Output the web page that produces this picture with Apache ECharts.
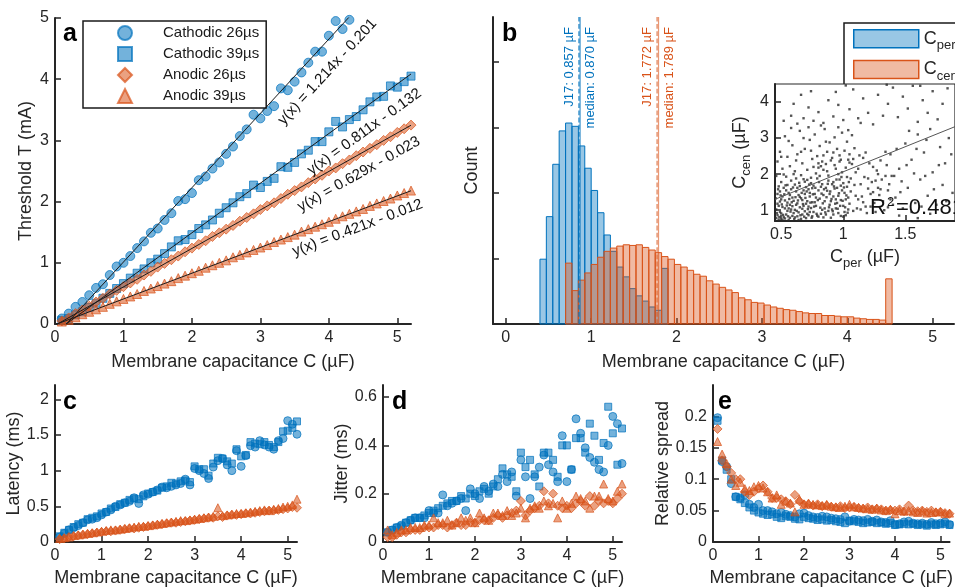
<!DOCTYPE html>
<html>
<head>
<meta charset="utf-8">
<script src="https://cdn.jsdelivr.net/npm/echarts@6/dist/echarts.min.js"></script>
<style>html,body{margin:0;background:#fff}#main{width:955px;height:588px}</style>
</head>
<body>
<div id="main"></div>
<script>
// ---- data ----
const capC = [0.1,0.2,0.3,0.4,0.5,0.6,0.7,0.8,0.9,1.0,1.1,1.2,1.3,1.4,1.5,1.6,1.7,1.8,1.9,2.0,
  2.1,2.2,2.3,2.4,2.5,2.6,2.7,2.8,2.9,3.0,3.1,3.2,3.3,3.4,3.5,3.6,3.7,3.8,3.9,4.0,
  4.1,4.2,4.3,4.4,4.5,4.6,4.7,4.8,4.9,5.0,5.1,5.2]
const seriesNames = ['Cathodic 26µs', 'Cathodic 39µs', 'Anodic 26µs', 'Anodic 39µs']

// a: threshold (mA)
const thrCat26 = [0.09,0.17,0.28,0.36,0.47,0.59,0.65,0.80,0.94,1.00,1.11,1.24,1.35,1.49,1.56,1.70,1.81,2.01,2.04,2.14,
  2.35,2.41,2.54,2.64,2.78,2.90,3.07,3.18,3.42,3.36,3.48,3.56,3.85,3.82,3.96,4.11,4.27,4.45,4.45,4.71,4.95,4.82,4.97]
const thrCat39 = [0.06,0.09,0.15,0.20,0.27,0.34,0.42,0.50,0.58,0.66,0.75,0.83,0.90,1.00,1.06,1.15,1.26,1.36,1.38,1.46,
  1.56,1.62,1.70,1.81,1.90,1.98,2.08,2.13,2.27,2.23,2.33,2.38,2.57,2.56,2.64,2.78,2.84,2.98,2.98,3.14,
  3.31,3.22,3.34,3.39,3.50,3.63,3.71,3.72,3.89,3.87,3.96,4.05]
const thrAno26 = [0.05,0.10,0.17,0.23,0.29,0.36,0.42,0.49,0.55,0.61,0.67,0.73,0.80,0.86,0.93,0.99,1.05,1.11,1.18,1.24,
  1.30,1.36,1.43,1.49,1.55,1.61,1.68,1.74,1.80,1.87,1.93,1.98,2.05,2.12,2.18,2.24,2.31,2.37,2.43,2.50,
  2.55,2.62,2.68,2.75,2.81,2.87,2.93,3.00,3.06,3.13,3.19,3.25]
const thrAno39 = [0.04,0.07,0.11,0.16,0.20,0.24,0.28,0.33,0.37,0.41,0.45,0.49,0.54,0.58,0.62,0.66,0.70,0.75,0.79,0.83,
  0.87,0.92,0.96,1.00,1.04,1.09,1.13,1.17,1.21,1.25,1.29,1.34,1.38,1.42,1.46,1.51,1.55,1.59,1.63,1.67,
  1.72,1.76,1.80,1.84,1.88,1.93,1.97,2.01,2.05,2.10,2.14,2.18]
const fitSlope = [1.214, 0.811, 0.629, 0.421]
const fitIcpt = [-0.201, -0.132, -0.023, -0.012]

// b: histogram of capacitances (bin counts, arbitrary units)
const binLeft = 0.4
const binWidth = 0.075
const perCounts = [99,164,244,295,307,302,272,238,204,170,136,111,87,72,54,43,35,26,21,85]
const cenFirstBin = 4
const cenCounts = [93,51,67,78,91,102,111,116,119,121,120,121,117,113,109,103,99,91,87,82,76,73,66,61,
  56,52,48,40,37,33,32,29,26,24,22,21,19,17,16,16,13,13,12,11,11,9,8,7,7,6,69]
const perMarks = [0.857, 0.870]   // J17, median
const cenMarks = [1.772, 1.789]

// b inset: C_per vs C_cen
const perCen = [
  [0.46,0.78],[0.48,1.12],[0.47,1.45],[0.49,0.95],[0.50,1.30],[0.51,0.74],[0.52,1.62],[0.53,1.05],[0.54,0.88],[0.55,1.21],
  [0.56,1.48],[0.57,0.79],[0.58,1.02],[0.59,1.35],[0.60,0.92],[0.61,1.71],[0.62,1.15],[0.63,0.83],[0.64,1.42],[0.65,1.08],
  [0.66,0.76],[0.67,1.28],[0.68,1.55],[0.69,0.97],[0.70,1.18],[0.71,1.84],[0.72,0.86],[0.73,1.38],[0.74,1.06],[0.75,1.61],
  [0.46,1.02],[0.47,0.86],[0.48,1.66],[0.49,1.24],[0.50,0.91],[0.51,1.38],[0.52,0.81],[0.53,1.27],[0.54,1.55],[0.55,0.98],
  [0.56,0.73],[0.57,1.15],[0.58,1.82],[0.59,0.84],[0.60,1.26],[0.61,1.01],[0.62,1.52],[0.63,1.19],[0.64,0.94],[0.65,1.67],
  [0.66,1.33],[0.67,0.88],[0.68,1.12],[0.69,1.45],[0.70,0.78],[0.71,1.25],[0.72,1.58],[0.73,0.95],[0.74,1.90],[0.75,1.22],
  [0.47,1.18],[0.49,1.52],[0.51,1.09],[0.53,0.77],[0.55,1.70],[0.57,1.42],[0.59,1.11],[0.61,0.80],[0.63,1.62],[0.65,1.37],
  [0.67,1.04],[0.69,1.79],[0.71,0.90],[0.73,1.48],[0.75,0.83],[0.46,1.95],[0.50,1.78],[0.54,1.93],[0.58,1.58],[0.62,1.88],
  [0.66,1.97],[0.70,1.64],[0.74,1.75],[0.52,1.99],[0.60,2.00],[0.68,1.86],[0.48,0.74],[0.56,1.05],[0.64,0.73],[0.72,1.10],
  [0.455,1.33],[0.465,0.92],[0.475,1.58],[0.485,0.81],[0.495,1.41],[0.505,1.16],[0.515,0.87],[0.525,1.44],[0.535,1.69],[0.545,1.13],
  [0.555,0.83],[0.565,1.31],[0.575,0.96],[0.585,1.22],[0.595,1.63],[0.605,0.75],[0.615,1.36],[0.625,0.98],[0.635,1.27],[0.645,1.76],
  [0.655,0.86],[0.665,1.48],[0.675,1.17],[0.685,0.82],[0.695,1.34],[0.705,1.52],[0.715,1.03],[0.725,1.71],[0.735,1.21],[0.745,0.79],
  [0.755,1.44],[0.765,1.10],[0.775,1.62],[0.785,0.90],[0.795,1.28],[0.805,1.78],[0.815,1.07],[0.825,1.46],[0.835,1.19],[0.845,1.58],
  [0.855,0.94],[0.865,1.36],[0.875,1.73],[0.885,1.08],[0.895,1.52],[0.905,1.31],[0.915,0.97],[0.925,1.66],[0.935,1.18],[0.945,1.85],
  [0.955,1.04],[0.965,1.47],[0.975,1.12],[0.985,1.92],[0.995,1.26],[1.005,1.63],[1.015,1.08],[1.025,1.41],[1.035,0.93],[1.045,1.78],
  [0.76,0.95],[0.77,1.45],[0.78,1.12],[0.79,1.88],[0.80,0.82],[0.81,1.32],[0.82,1.65],[0.83,1.01],[0.84,2.12],[0.85,1.25],
  [0.86,0.88],[0.87,1.54],[0.88,1.96],[0.89,1.15],[0.90,0.79],[0.91,1.72],[0.92,1.38],[0.93,2.25],[0.94,1.05],[0.95,1.62],
  [0.96,0.92],[0.97,1.85],[0.98,1.28],[0.99,2.05],[1.00,1.12],[1.01,1.48],[1.02,0.86],[1.03,1.92],[1.04,1.35],[1.05,2.32],
  [0.76,1.68],[0.78,2.02],[0.80,1.55],[0.82,0.90],[0.84,1.42],[0.86,2.28],[0.88,0.98],[0.90,1.25],[0.92,1.78],[0.94,2.15],
  [0.96,1.40],[0.98,0.84],[1.00,1.75],[1.02,2.18],[1.04,1.02],[0.77,1.22],[0.79,0.85],[0.81,1.95],[0.83,1.72],[0.85,1.05],
  [0.87,2.08],[0.89,1.45],[0.91,1.02],[0.93,1.60],[0.95,1.20],[0.97,2.35],[0.99,1.55],[1.01,0.95],[1.03,1.65],[1.05,1.18],
  [0.78,1.35],[0.82,2.22],[0.86,1.62],[0.90,2.38],[0.94,1.30],[0.98,1.68],[1.02,1.30],[0.80,2.30],[0.88,1.82],[0.96,2.00],
  [1.04,2.40],[0.84,0.80],[0.92,0.88],[1.00,0.82],[0.76,2.20],
  [1.06,1.52],[1.08,0.98],[1.10,2.05],[1.12,1.30],[1.14,1.72],[1.16,2.45],[1.18,1.10],[1.20,1.88],[1.22,1.45],[1.24,2.20],
  [1.26,0.95],[1.28,1.62],[1.30,2.38],[1.32,1.25],[1.34,1.95],[1.36,1.55],[1.38,2.55],[1.40,1.15],[1.07,2.28],[1.09,1.70],
  [1.11,1.05],[1.13,2.52],[1.15,1.38],[1.17,1.92],[1.19,0.92],[1.21,2.30],[1.23,1.78],[1.25,1.20],[1.27,2.10],[1.29,1.42],
  [1.31,1.85],[1.33,1.00],[1.35,2.25],[1.37,1.72],[1.39,1.95],[1.06,1.88],[1.10,1.40],[1.14,1.02],[1.18,2.60],[1.22,1.10],
  [1.26,1.82],[1.30,1.58],[1.34,2.62],[1.38,1.30],[1.12,2.15],[1.20,1.60],[1.28,2.00],[1.36,1.08],[1.16,1.22],[1.24,1.50],
  [0.47,2.35],[0.49,2.62],[0.51,2.15],[0.53,3.05],[0.55,2.48],[0.57,2.22],[0.59,2.80],[0.61,2.08],[0.63,2.55],[0.65,3.20],
  [0.67,2.30],[0.69,2.70],[0.71,2.12],[0.73,2.95],[0.75,2.42],[0.77,3.10],[0.79,2.50],[0.81,2.78],[0.83,2.35],[0.85,3.25],
  [0.87,2.62],[0.89,2.88],[0.91,2.45],[0.93,3.02],[0.95,2.70],[0.97,2.52],[0.99,3.15],[1.01,2.65],[1.03,2.90],[1.05,2.55],
  [1.07,3.08],[1.09,2.72],[0.50,2.48],[0.56,2.92],[0.62,2.38],[0.68,3.00],[0.74,2.65],[0.80,2.18],[0.86,2.90],[0.92,2.60],
  [0.98,2.40],[1.04,3.22],[0.58,3.28],[0.66,2.62],[0.72,3.30],[0.84,2.52],[0.96,3.30],[1.08,2.42],
  [0.52,3.48],[0.58,3.62],[0.63,3.40],[0.68,3.55],[0.72,3.85],[0.76,3.48],[0.80,3.72],[0.84,3.42],[0.88,4.05],[0.92,3.60],
  [0.96,3.92],[1.00,3.50],[1.05,3.80],[1.08,4.35],[1.12,3.55],[1.16,4.10],[1.20,3.70],[1.24,3.38],[1.28,4.20],[1.32,3.62],
  [1.36,3.95],[1.40,4.40],[1.44,3.58],[1.48,4.15],[1.52,3.82],[1.56,4.45],[1.60,3.45],[1.64,4.05],[1.68,3.70],[1.72,4.30],
  [1.76,3.52],[1.80,3.95],[1.84,4.38],[0.66,4.20],[0.74,4.30],[0.82,3.35],[0.94,4.28],[1.02,4.46],[0.60,3.95],[1.14,3.42],
  [1.35,4.48],[1.62,4.45],
  [1.42,1.35],[1.45,2.15],[1.48,1.05],[1.50,2.85],[1.52,1.62],[1.55,2.40],[1.58,1.20],[1.60,3.10],[1.62,1.85],[1.65,2.60],
  [1.68,1.40],[1.70,3.25],[1.72,2.05],[1.75,1.15],[1.78,2.75],[1.80,1.70],[1.82,2.30],[1.85,3.00],[1.88,1.48],[1.43,2.70],
  [1.47,1.80],[1.53,3.20],[1.57,2.02],[1.63,1.10],[1.67,2.95],[1.73,1.58],[1.77,2.25],[1.83,1.25],[1.87,2.55],[1.41,1.95],
  [1.46,1.50],[1.51,2.25],[1.59,2.70],[1.66,1.95],[1.45,0.85],[1.55,0.95],[1.70,0.90],[1.60,0.78]
]
const insetFit = [1.39, 0.676]
const insetR2 = '0.481'

// c: latency (ms)
const latCat26 = [0.07,0.12,0.17,0.20,0.23,0.27,0.31,0.32,0.34,0.38,0.42,0.45,0.50,0.52,0.55,0.57,0.62,0.54,0.66,0.67,
  0.70,0.73,0.77,0.76,0.78,0.80,0.82,0.88,0.80,1.03,1.00,0.96,0.89,1.05,1.14,1.17,1.08,1.00,1.28,1.06,
  1.21,1.35,1.33,1.42,1.36,1.33,1.30,1.42,1.45,1.70,1.65,1.51]
const latCat39 = [0.08,0.13,0.17,0.21,0.25,0.27,0.32,0.34,0.36,0.40,0.42,0.47,0.49,0.53,0.55,0.59,0.61,0.60,0.64,0.68,
  0.70,0.72,0.76,0.78,0.83,0.82,0.85,0.86,0.84,1.06,1.02,1.02,0.93,1.10,1.18,1.17,1.13,1.10,1.30,1.20,
  1.22,1.40,1.38,1.37,1.40,1.36,1.33,1.40,1.55,1.56,1.60,1.69]
const latAno26 = [0.04,0.05,0.07,0.08,0.09,0.10,0.11,0.12,0.13,0.14,0.15,0.15,0.16,0.17,0.18,0.19,0.19,0.20,0.21,0.22,
  0.23,0.24,0.25,0.26,0.27,0.27,0.28,0.29,0.30,0.31,0.32,0.33,0.34,0.34,0.36,0.35,0.37,0.38,0.38,0.39,
  0.40,0.40,0.41,0.42,0.43,0.44,0.44,0.45,0.46,0.47,0.49,0.48]
const latAno39 = [0.05,0.06,0.07,0.09,0.10,0.11,0.12,0.13,0.14,0.15,0.16,0.17,0.17,0.18,0.19,0.20,0.21,0.22,0.22,0.23,
  0.24,0.25,0.26,0.27,0.28,0.29,0.30,0.30,0.31,0.32,0.33,0.34,0.35,0.36,0.48,0.37,0.38,0.39,0.40,0.40,
  0.41,0.42,0.43,0.44,0.45,0.44,0.46,0.47,0.49,0.50,0.52,0.60]

// d: jitter (ms)
const jitCat26 = [0.04,0.05,0.06,0.07,0.08,0.09,0.10,0.10,0.10,0.13,0.12,0.12,0.195,0.15,0.16,0.17,0.18,0.13,0.22,0.20,
  0.18,0.23,0.21,0.24,0.23,0.28,0.25,0.29,0.19,0.34,0.27,0.18,0.27,0.31,0.36,0.32,0.29,0.25,0.44,0.25,
  0.30,0.51,0.45,0.39,0.35,0.33,0.30,0.29,0.40,0.52,0.49,0.325]
const jitCat39 = [0.04,0.05,0.06,0.065,0.08,0.09,0.10,0.10,0.11,0.12,0.13,0.14,0.15,0.16,0.17,0.17,0.19,0.18,0.20,0.19,
  0.21,0.22,0.20,0.23,0.26,0.305,0.28,0.27,0.21,0.37,0.31,0.34,0.28,0.23,0.37,0.37,0.34,0.27,0.40,0.40,
  0.30,0.43,0.43,0.37,0.49,0.44,0.34,0.41,0.56,0.45,0.32,0.47]
const jitAno26 = [0.02,0.02,0.03,0.04,0.04,0.05,0.05,0.05,0.06,0.06,0.06,0.07,0.07,0.06,0.07,0.08,0.07,0.07,0.08,0.08,
  0.09,0.09,0.09,0.10,0.11,0.10,0.11,0.12,0.13,0.17,0.11,0.13,0.14,0.15,0.21,0.16,0.20,0.15,0.14,0.15,
  0.14,0.16,0.17,0.15,0.19,0.15,0.17,0.16,0.17,0.16,0.18,0.20]
const jitAno39 = [0.05,0.03,0.04,0.05,0.05,0.06,0.06,0.06,0.07,0.07,0.10,0.08,0.08,0.09,0.07,0.08,0.10,0.09,0.10,0.08,
  0.12,0.10,0.09,0.12,0.12,0.11,0.13,0.11,0.12,0.14,0.10,0.14,0.15,0.14,0.17,0.15,0.16,0.10,0.17,0.14,
  0.16,0.19,0.18,0.17,0.14,0.19,0.19,0.24,0.18,0.17,0.21,0.24]

// e: relative spread
const rsCat26 = [0.198,0.128,0.120,0.093,0.072,0.070,0.075,0.060,0.055,0.060,0.050,0.050,0.048,0.045,0.047,0.044,0.042,0.040,0.045,0.046,
  0.042,0.040,0.039,0.041,0.040,0.038,0.037,0.036,0.040,0.033,0.036,0.035,0.034,0.036,0.033,0.035,0.032,0.031,0.034,0.028,
  0.029,0.032,0.033,0.030,0.029,0.030,0.028,0.031,0.029,0.030,0.032,0.028]
const rsCat39 = [0.193,0.130,0.115,0.100,0.072,0.068,0.062,0.055,0.050,0.047,0.045,0.043,0.044,0.040,0.038,0.041,0.040,0.037,0.036,0.040,
  0.038,0.037,0.035,0.036,0.034,0.035,0.033,0.032,0.030,0.034,0.033,0.032,0.030,0.031,0.032,0.030,0.031,0.029,0.030,0.027,
  0.028,0.029,0.028,0.029,0.027,0.028,0.026,0.028,0.027,0.028,0.029,0.027]
const rsAno26 = [0.180,0.130,0.120,0.110,0.100,0.100,0.080,0.075,0.080,0.085,0.090,0.080,0.070,0.070,0.068,0.065,0.060,0.075,0.065,0.060,
  0.060,0.058,0.060,0.057,0.058,0.056,0.055,0.057,0.054,0.055,0.056,0.054,0.053,0.055,0.052,0.053,0.052,0.050,0.051,0.050,
  0.052,0.049,0.058,0.050,0.049,0.050,0.048,0.050,0.047,0.048,0.046,0.045]
const rsAno39 = [0.160,0.140,0.125,0.100,0.090,0.095,0.085,0.082,0.088,0.090,0.086,0.080,0.070,0.075,0.060,0.065,0.062,0.048,0.068,0.060,
  0.062,0.060,0.059,0.058,0.060,0.057,0.056,0.055,0.057,0.060,0.056,0.055,0.054,0.053,0.052,0.054,0.051,0.050,0.052,0.045,
  0.050,0.049,0.050,0.048,0.047,0.049,0.046,0.047,0.048,0.048,0.045,0.046]

// ---- styling ----
const FONT = '"Liberation Sans", Arial, sans-serif'
const INK = '#262626'
const BLUE = '#0072BD'
const ORANGE = '#D95319'
const markFill = [
  'rgba(0,114,189,0.55)', 'rgba(0,114,189,0.55)', 'rgba(217,83,25,0.55)', 'rgba(217,83,25,0.55)'
]
const markEdge = [
  'rgba(0,114,189,0.7)', 'rgba(0,114,189,0.7)', 'rgba(217,83,25,0.7)', 'rgba(217,83,25,0.7)'
]
const markSymbol = ['circle', 'rect', 'diamond', 'triangle']
const bigSize = [9, 8, 10, 9]
const smallSize = [8, 7, 9, 8]

const pair = (xs, ys) => ys.map((y, i) => [xs[i], y])

function valAxis(grid, min, max, ticks, extra) {
  return Object.assign({
    type: 'value', gridIndex: grid, min: min, max: max,
    axisLine: { show: true, onZero: false, lineStyle: { color: INK, width: 2 } },
    axisTick: { show: true, inside: true, length: 6, customValues: ticks, lineStyle: { color: INK, width: 1.5 } },
    axisLabel: { customValues: ticks, color: INK, fontSize: 16, fontFamily: FONT, margin: 6 },
    splitLine: { show: false },
    nameLocation: 'middle',
    nameTextStyle: { color: INK, fontSize: 18, fontFamily: FONT }
  }, extra || {})
}

const xLab = 'Membrane capacitance C (µF)'
const ticks05 = [0, 1, 2, 3, 4, 5]

const subRich = {
  m: { fontSize: 18, fontFamily: FONT, color: INK, lineHeight: 26 },
  s: { fontSize: 13, fontFamily: FONT, color: INK, lineHeight: 26, verticalAlign: 'bottom' }
}

const grids = [
  { left: 55, top: 18, width: 356, height: 306 },
  { left: 493, top: 17, width: 461, height: 307 },
  { left: 775, top: 84, width: 191, height: 137, show: true, backgroundColor: '#fff', borderColor: INK, borderWidth: 1.2, z: 5 },
  { left: 55, top: 385, width: 242, height: 159 },
  { left: 383, top: 385, width: 239, height: 159 },
  { left: 713, top: 385, width: 240, height: 159 }
]

const xAxes = [
  valAxis(0, 0, 5.2, ticks05, { name: xLab, nameGap: 29 }),
  valAxis(1, -0.15, 5.25, ticks05, { name: xLab, nameGap: 29 }),
  valAxis(2, 0.45, 1.9, [0.5, 1, 1.5], {
    name: '{m|C}{s|per}{m| (µF)}', nameGap: 23, z: 6,
    nameTextStyle: { rich: subRich }
  }),
  valAxis(3, 0, 5.2, ticks05, { name: xLab, nameGap: 27 }),
  valAxis(4, 0, 5.2, ticks05, { name: xLab, nameGap: 27 }),
  valAxis(5, 0, 5.2, ticks05, { name: xLab, nameGap: 27 })
]
const yAxes = [
  valAxis(0, 0, 5, [0, 1, 2, 3, 4, 5], { name: 'Threshold T (mA)', nameGap: 20 }),
  valAxis(1, 0, 469, [0, 100, 200, 300, 400], {
    name: 'Count', nameGap: 12,
    axisLabel: { show: false, customValues: [0, 100, 200, 300, 400] }
  }),
  valAxis(2, 0.7, 4.5, [1, 2, 3, 4], {
    name: '{m|C}{s|cen}{m| (µF)}', nameGap: 22, z: 6,
    nameTextStyle: { rich: subRich }
  }),
  valAxis(3, 0, 2.2, [0, 0.5, 1, 1.5, 2], { name: 'Latency (ms)', nameGap: 30 }),
  valAxis(4, 0, 0.65, [0, 0.2, 0.4, 0.6], { name: 'Jitter (ms)', nameGap: 28 }),
  valAxis(5, 0, 0.25, [0, 0.05, 0.1, 0.15, 0.2], { name: 'Relative spread', nameGap: 38 })
]

const series = []
function addGroup(axis, sets, sizes, xs) {
  sets.forEach((ys, k) => {
    series.push({
      type: 'scatter', name: seriesNames[k], xAxisIndex: axis, yAxisIndex: axis,
      data: pair(xs, ys), symbol: markSymbol[k], symbolSize: sizes[k], silent: true,
      itemStyle: { color: markFill[k], borderColor: markEdge[k], borderWidth: 1, opacity: 1 }
    })
  })
}

// a
addGroup(0, [thrCat26, thrCat39, thrAno26, thrAno39], bigSize, capC)
const fitEnd = [capC[thrCat26.length - 1], 5.2, 5.2, 5.2]
fitSlope.forEach((m, k) => {
  const b = fitIcpt[k]
  series.push({
    type: 'line', xAxisIndex: 0, yAxisIndex: 0, symbol: 'none', silent: true, z: 4,
    data: [[-b / m, 0], [fitEnd[k], m * fitEnd[k] + b]],
    lineStyle: { color: '#1a1a1a', width: 1 }
  })
})

// b histogram
function histData(counts, first) {
  return counts.map((c, i) => [binLeft + (first + i) * binWidth, binLeft + (first + i + 1) * binWidth, c])
}
function histSeries(name, counts, first, fill, edge) {
  return {
    type: 'custom', name: name, xAxisIndex: 1, yAxisIndex: 1, silent: true,
    data: histData(counts, first),
    encode: { x: [0, 1], y: 2 },
    renderItem: function (params, api) {
      const p0 = api.coord([api.value(0), api.value(2)])
      const p1 = api.coord([api.value(1), 0])
      return {
        type: 'rect',
        shape: { x: p0[0], y: p0[1], width: p1[0] - p0[0], height: p1[1] - p0[1] },
        style: { fill: fill, stroke: edge, lineWidth: 1 }
      }
    }
  }
}
series.push(histSeries('Cper', perCounts, 0, 'rgba(0,114,189,0.4)', BLUE))
series.push(histSeries('Ccen', cenCounts, cenFirstBin, 'rgba(217,83,25,0.4)', ORANGE))
const markLines = [
  [perMarks[0], 'dashed', 'rgba(0,114,189,0.9)'], [perMarks[1], 'solid', 'rgba(0,114,189,0.75)'],
  [cenMarks[0], 'dashed', 'rgba(217,83,25,0.75)'], [cenMarks[1], 'solid', 'rgba(217,83,25,0.6)']
]
markLines.forEach(([x, type, col]) => {
  series.push({
    type: 'line', xAxisIndex: 1, yAxisIndex: 1, symbol: 'none', silent: true, z: 4,
    data: [[x, 0], [x, 469]], lineStyle: { color: col, width: 1.2, type: type }
  })
})

// b inset
series.push({
  type: 'scatter', xAxisIndex: 2, yAxisIndex: 2, data: perCen, symbol: 'rect', symbolSize: 2.4,
  silent: true, z: 6, itemStyle: { color: '#2a2a2a' }
})
series.push({
  type: 'line', xAxisIndex: 2, yAxisIndex: 2, symbol: 'none', silent: true, z: 7,
  data: [[0.45, insetFit[0] * 0.45 + insetFit[1]], [1.9, insetFit[0] * 1.9 + insetFit[1]]],
  lineStyle: { color: '#555', width: 1 }
})

// c, d, e
addGroup(3, [latCat26, latCat39, latAno26, latAno39], smallSize, capC)
addGroup(4, [jitCat26, jitCat39, jitAno26, jitAno39], smallSize, capC)
addGroup(5, [rsCat26, rsCat39, rsAno26, rsAno39], smallSize, capC)

const option = {
  animation: false,
  backgroundColor: '#fff',
  grid: grids,
  xAxis: xAxes,
  yAxis: yAxes,
  legend: [
    {
      left: 83, top: 21, orient: 'vertical', selectedMode: false,
      data: seriesNames.map((n, k) => ({ name: n, icon: markSymbol[k] })),
      itemWidth: 14, itemHeight: 14, itemGap: 5, padding: [4, 7, 4, 34],
      borderColor: '#1a1a1a', borderWidth: 1.5, backgroundColor: '#fff',
      textStyle: { fontSize: 15, fontFamily: FONT, color: '#1a1a1a', padding: [0, 0, 0, 26] }
    },
    {
      left: 844, top: 23, orient: 'vertical', selectedMode: false,
      data: [
        { name: 'Cper', icon: 'rect', itemStyle: { color: 'rgba(0,114,189,0.4)', borderColor: BLUE, borderWidth: 1.5 } },
        { name: 'Ccen', icon: 'rect', itemStyle: { color: 'rgba(217,83,25,0.4)', borderColor: ORANGE, borderWidth: 1.5 } }
      ],
      itemWidth: 65, itemHeight: 18, itemGap: 8, padding: [6, 9, 5, 9],
      borderColor: '#1a1a1a', borderWidth: 1.5, backgroundColor: '#fff',
      formatter: n => '{m|C}{s|' + n.slice(1) + '}',
      textStyle: { rich: subRich }
    }
  ],
  series: series
}

const chart = echarts.init(document.getElementById('main'))
chart.setOption(option)

// ---- annotations placed through the axes ----
const px = (g, pt) => chart.convertToPixel({ gridIndex: g }, pt)
const graphic = []
function label(x, y, text, font, fill, align, vAlign, rot) {
  graphic.push({
    type: 'text', x: x, y: y, rotation: rot || 0, silent: true, z: 20,
    style: { text: text, font: font, fill: fill, align: align, verticalAlign: vAlign }
  })
}
const letterFont = 'bold 25px ' + FONT
label(63, 34, 'a', letterFont, '#000', 'left', 'middle')
label(502, 34, 'b', letterFont, '#000', 'left', 'middle')
label(63, 402, 'c', letterFont, '#000', 'left', 'middle')
label(392, 402, 'd', letterFont, '#000', 'left', 'middle')
label(718, 402, 'e', letterFont, '#000', 'left', 'middle')

const eqAt = [[3.98, 4.12], [4.52, 3.14], [4.44, 2.45], [4.42, 1.57]]
fitSlope.forEach((m, k) => {
  const b = fitIcpt[k]
  const p1 = px(0, [0, b]), p2 = px(0, [1, m + b])
  const ang = Math.atan2(p1[1] - p2[1], p2[0] - p1[0])
  const c = px(0, eqAt[k])
  label(c[0], c[1], 'y(x) = ' + m.toFixed(3) + 'x - ' + (-b).toFixed(3), '15px ' + FONT, '#111', 'center', 'middle', ang)
})

const topY = 27
const medFont = '13px ' + FONT
const mk = [
  [perMarks[0], 'J17: ' + perMarks[0].toFixed(3) + ' µF', BLUE, -3, 'bottom'],
  [perMarks[1], 'median: ' + perMarks[1].toFixed(3) + ' µF', BLUE, 4, 'top'],
  [cenMarks[0], 'J17: ' + cenMarks[0].toFixed(3) + ' µF', ORANGE, -3, 'bottom'],
  [cenMarks[1], 'median: ' + cenMarks[1].toFixed(3) + ' µF', ORANGE, 4, 'top']
]
mk.forEach(([x, t, col, dx, va]) => {
  const p = px(1, [x, 0])
  label(p[0] + dx, topY, t, medFont, col, 'right', va, Math.PI / 2)
})

label(870, 219, 'R', '22px ' + FONT, '#111', 'left', 'bottom')
label(887, 209, '2', '13px ' + FONT, '#111', 'left', 'bottom')
label(896, 219, '=' + insetR2, '22px ' + FONT, '#111', 'left', 'bottom')

chart.setOption({ graphic: graphic })
</script>
</body>
</html>
